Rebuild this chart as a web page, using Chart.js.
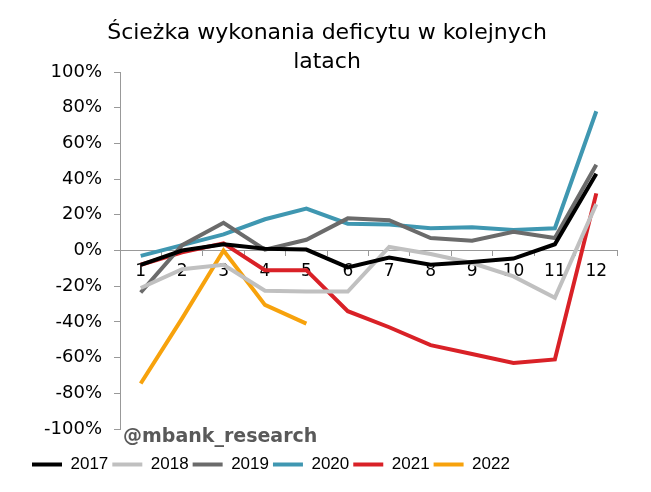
<!DOCTYPE html>
<html>
<head>
<meta charset="utf-8">
<script src="https://cdn.jsdelivr.net/npm/chart.js@4"></script>
<style>
  html, body { margin: 0; padding: 0; background: #fff; }
  #wrap { width: 651px; height: 492px; }
</style>
</head>
<body>
<div id="wrap"><canvas id="chart" width="651" height="492"></canvas></div>
<script>
const months = ['1', '2', '3', '4', '5', '6', '7', '8', '9', '10', '11', '12'];
const years = ['2017', '2018', '2019', '2020', '2021', '2022'];
const colors = ['#000000', '#c0c0c0', '#6b6b6b', '#3f97b1', '#d92127', '#f7a20c'];

const v2017 = [-8, 0, 3.5, 1, 0.5, -9.5, -4, -8, -6.5, -4.5, 3.5, 43];
const v2018 = [-21, -10.5, -8, -22.5, -23, -23, 2, -2, -7, -14.5, -26.5, 26];
const v2019 = [-23.5, 3, 15.5, 0.5, 6, 18, 17, 7, 5.5, 10.5, 7, 48];
const v2020 = [-3, 3, 9, 17.5, 23.5, 15, 14.5, 12.5, 13, 11.5, 12.5, 78];
const v2021 = [-8, -1, 4, -11, -11, -34, -43, -53, -58, -63, -61, 32];
const v2022 = [-74.5, -38, 0, -30.5, -41];

const series = [v2017, v2018, v2019, v2020, v2021, v2022];
const yTicks = [-100, -80, -60, -40, -20, 0, 20, 40, 60, 80, 100];

const titleLines = ['Ścieżka wykonania deficytu w kolejnych', 'latach'];
const watermark = '@mbank_research';

// title + watermark drawn as text on the canvas
const textPlugin = {
    id: 'texts',
    afterDraw(chart) {
        const ctx = chart.ctx;
        ctx.save();
        ctx.fillStyle = '#000';
        ctx.font = '22px "DejaVu Sans"';
        ctx.textAlign = 'center';
        ctx.textBaseline = 'middle';
        ctx.fillText(titleLines[0], 327, 33);
        ctx.fillText(titleLines[1], 327, 62);
        ctx.fillStyle = '#595959';
        ctx.font = 'bold 19px "DejaVu Sans"';
        ctx.textAlign = 'left';
        ctx.fillText(watermark, 123, 437);
        ctx.restore();
    }
};

const ctx = document.getElementById('chart').getContext('2d');
const chart = new Chart(ctx, {
    type: 'line',
    data: {
        labels: months,
        datasets: years.map((y, i) => ({
            label: y,
            data: series[i],
            borderColor: colors[i],
            backgroundColor: colors[i],
            borderWidth: 4,
            pointRadius: 0,
            tension: 0,
            fill: false
        }))
    },
    options: {
        responsive: false,
        animation: false,
        layout: { padding: { top: 72, left: 28, right: 34, bottom: 9 } },
        plugins: {
            title: { display: false },
            tooltip: { enabled: false },
            legend: {
                position: 'bottom',
                align: 'start',
                title: {
                    display: true,
                    text: ' ',
                    font: { size: 10, lineHeight: 1 },
                    padding: { top: 13, bottom: 0 }
                },
                labels: {
                    usePointStyle: true,
                    pointStyle: 'line',
                    pointStyleWidth: 30,
                    padding: 4,
                    color: '#000',
                    font: { family: '"Liberation Sans"', size: 17 }
                }
            }
        },
        scales: {
            x: {
                position: { y: 0 },
                offset: true,
                grid: {
                    offset: true,
                    drawOnChartArea: false,
                    tickLength: 5,
                    color: '#999'
                },
                border: { color: '#999' },
                ticks: {
                    color: '#000',
                    padding: 6,
                    maxRotation: 0,
                    font: { family: '"DejaVu Sans"', size: 17 }
                }
            },
            y: {
                min: -100,
                max: 100,
                afterBuildTicks(scale) {
                    scale.ticks = yTicks.map(v => ({ value: v }));
                },
                afterFit(scale) { scale.width = 92; },
                grid: {
                    drawOnChartArea: false,
                    tickLength: 6,
                    color: '#999'
                },
                border: { color: '#999' },
                ticks: {
                    color: '#000',
                    padding: 12,
                    font: { family: '"DejaVu Sans"', size: 18 },
                    callback: v => v + '%'
                }
            }
        }
    },
    plugins: [textPlugin]
});
</script>
</body>
</html>
